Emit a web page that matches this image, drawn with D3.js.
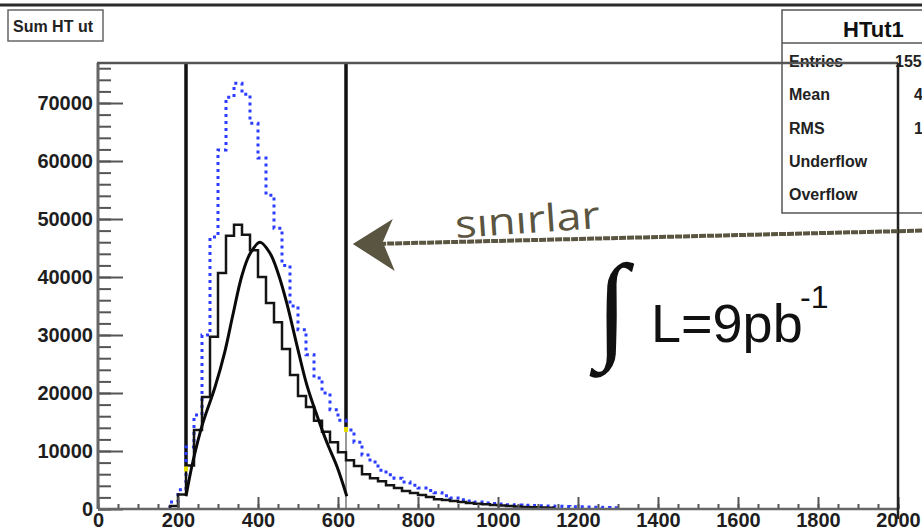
<!DOCTYPE html>
<html>
<head>
<meta charset="utf-8">
<script src="https://cdn.jsdelivr.net/npm/d3@7/dist/d3.min.js"></script>
<style>
  body { margin: 0; background: #fff; }
  svg { display: block; }
</style>
</head>
<body>
<div id="chart"></div>
<script>
// histogram binning (HT in GeV), bins start at firstBin
var binWidth = 20;
var firstBin = 180;

// blue dotted histogram (before cuts)
var blueCounts = [1200, 3300, 10700, 16200, 30000, 46900, 61900, 71000, 73400, 71500,
                  66500, 60500, 54100, 48400, 42000, 35000, 30900, 26600, 22600, 20000,
                  17100, 15300, 13600, 11500, 9300, 8100, 6700, 5900, 5300, 4650,
                  4100, 3600, 3200, 2800, 2300, 1900, 1600, 1400, 1200, 1050,
                  950, 850, 750, 700, 650, 600, 560, 520, 480, 440,
                  400, 370, 340, 300, 260, 200];

// black solid histogram
var blackCounts = [500, 2500, 7500, 13600, 19300, 29700, 40700, 47100, 49000, 47300,
                   44600, 40000, 35500, 32200, 27600, 23100, 19500, 17600, 15200, 13300,
                   11500, 9800, 8400, 7400, 6000, 5300, 4800, 4100, 3600, 3100,
                   2750, 2400, 2050, 1700, 1550, 1400, 1200, 1050, 900, 800,
                   700, 600, 500, 420, 350, 300, 250, 200];

// fitted curve
var fitX = [220, 237, 262, 292, 317, 337, 360, 380, 405, 430, 450, 472, 497, 522, 547, 572, 597, 622];
var fitY = [2200, 8100, 14800, 20900, 27100, 33400, 40300, 44000, 46000, 44100, 40700, 35500, 28300, 21400, 16200, 11500, 7400, 2200];

// cut lines ("sinirlar")
var cutX = [220, 620];
var cutBottom = [7000, 13800];

var xTicks = [0, 200, 400, 600, 800, 1000, 1200, 1400, 1600, 1800, 2000];
var yTicks = [0, 10000, 20000, 30000, 40000, 50000, 60000, 70000];

var statLabels = ["Entries", "Mean", "RMS", "Underflow", "Overflow"];
var statValues = ["155", "4", "1", "", ""];
var statValueX = [895, 914, 914, 930, 930];

var W = 922, H = 532;
var x = d3.scaleLinear().domain([0, 2000]).range([98, 898]);
var y = d3.scaleLinear().domain([0, 76900]).range([509, 63]);

var svg = d3.select("#chart").append("svg")
    .attr("width", W)
    .attr("height", H)
    .style("font-family", "'Liberation Sans', Arial, sans-serif");

svg.append("rect").attr("width", W).attr("height", H).attr("fill", "#fff");

// top border of the canvas
svg.append("line")
    .attr("x1", 0).attr("x2", W).attr("y1", 5).attr("y2", 5)
    .attr("stroke", "#2a2a2a").attr("stroke-width", 3);

// title box
svg.append("rect")
    .attr("x", 8).attr("y", 10).attr("width", 95).attr("height", 31)
    .attr("fill", "#fff").attr("stroke", "#666").attr("stroke-width", 1.5);
svg.append("text")
    .attr("x", 13).attr("y", 32)
    .attr("font-size", 16).attr("font-weight", "bold").attr("fill", "#222")
    .text("Sum HT ut");

// build step points
function stepPoints(counts) {
    var pts = [[firstBin, 0]];
    counts.forEach(function(c, i) { pts.push([firstBin + i * binWidth, c]); });
    var end = firstBin + counts.length * binWidth;
    pts.push([end, counts[counts.length - 1]]);
    pts.push([end, 0]);
    return pts;
}

var stepLine = d3.line()
    .x(function(d) { return x(d[0]); })
    .y(function(d) { return y(d[1]); })
    .curve(d3.curveStepAfter);

// cut lines
svg.selectAll("line.cut")
    .data(cutX)
    .enter().append("line")
    .attr("class", "cut")
    .attr("x1", function(d) { return x(d); })
    .attr("x2", function(d) { return x(d); })
    .attr("y1", y(76900))
    .attr("y2", function(d, i) { return y(cutBottom[i]); })
    .attr("stroke", "#111").attr("stroke-width", 3.5);

svg.append("line")
    .attr("x1", x(cutX[1])).attr("x2", x(cutX[1]))
    .attr("y1", y(cutBottom[1])).attr("y2", y(0))
    .attr("stroke", "#777").attr("stroke-width", 1.5);

// blue dotted histogram
svg.append("path")
    .attr("d", stepLine(stepPoints(blueCounts)))
    .attr("fill", "none")
    .attr("stroke", "#2b3bff")
    .attr("stroke-width", 3)
    .attr("stroke-dasharray", "3,4");

// black histogram
svg.append("path")
    .attr("d", stepLine(stepPoints(blackCounts)))
    .attr("fill", "none")
    .attr("stroke", "#151515")
    .attr("stroke-width", 2.5);

// fit curve
var fitLine = d3.line()
    .x(function(d) { return x(d[0]); })
    .y(function(d) { return y(d[1]); })
    .curve(d3.curveCatmullRom.alpha(0.5));
svg.append("path")
    .attr("d", fitLine(fitX.map(function(v, i) { return [v, fitY[i]]; })))
    .attr("fill", "none")
    .attr("stroke", "#0a0a0a")
    .attr("stroke-width", 3);

// yellow markers at cut ends
svg.selectAll("rect.mark")
    .data(cutX)
    .enter().append("rect")
    .attr("class", "mark")
    .attr("x", function(d) { return x(d) - 2; })
    .attr("y", function(d, i) { return y(cutBottom[i]) - 2; })
    .attr("width", 4).attr("height", 5)
    .attr("fill", "#e6df00");

// stats box
var sx = 782;
svg.append("rect")
    .attr("x", sx).attr("y", 10).attr("width", 170).attr("height", 203)
    .attr("fill", "#fff").attr("stroke", "#555").attr("stroke-width", 1.5);
svg.append("line")
    .attr("x1", sx).attr("x2", W).attr("y1", 43).attr("y2", 43)
    .attr("stroke", "#555").attr("stroke-width", 1.5);
svg.append("text")
    .attr("x", 843).attr("y", 37)
    .attr("font-size", 22).attr("font-weight", "bold").attr("fill", "#111")
    .text("HTut1");
svg.selectAll("text.slab")
    .data(statLabels)
    .enter().append("text")
    .attr("class", "slab")
    .attr("x", 789)
    .attr("y", function(d, i) { return 67 + i * 33.3; })
    .attr("font-size", 16).attr("font-weight", "bold").attr("fill", "#222")
    .text(function(d) { return d; });
svg.selectAll("text.sval")
    .data(statValues)
    .enter().append("text")
    .attr("class", "sval")
    .attr("x", function(d, i) { return statValueX[i]; })
    .attr("y", function(d, i) { return 67 + i * 33.3; })
    .attr("font-size", 16).attr("font-weight", "bold").attr("fill", "#222")
    .text(function(d) { return d; });

// axes (ticks drawn inside the frame)
var xAxis = d3.axisBottom(x).tickValues(xTicks).tickSize(-12).tickSizeOuter(0).tickPadding(4)
    .tickFormat(d3.format("d"));
var xMinor = d3.axisBottom(x).tickValues(d3.range(0, 2001, 50)).tickSize(-5).tickSizeOuter(0)
    .tickFormat("");
var yAxis = d3.axisLeft(y).tickValues(yTicks).tickSize(-25).tickSizeOuter(0).tickPadding(5)
    .tickFormat(d3.format("d"));
var yMinor = d3.axisLeft(y).tickValues(d3.range(0, 76001, 2000)).tickSize(-13).tickSizeOuter(0)
    .tickFormat("");

function styleAxis(g) {
    g.select(".domain").remove();
    g.selectAll(".tick line").attr("stroke", "#555").attr("stroke-width", 2);
    g.selectAll(".tick text")
        .attr("font-size", 20).attr("font-weight", "bold").attr("fill", "#1e1e1e")
        .attr("font-family", "'Liberation Sans', Arial, sans-serif");
}

svg.append("g").attr("transform", "translate(0," + y(0) + ")").call(xMinor).call(styleAxis);
svg.append("g").attr("transform", "translate(0," + y(0) + ")").call(xAxis).call(styleAxis);
svg.append("g").attr("transform", "translate(" + x(0) + ",0)").call(yMinor).call(styleAxis);
svg.append("g").attr("transform", "translate(" + x(0) + ",0)").call(yAxis).call(styleAxis);

// frame
svg.append("line")
    .attr("x1", x(0)).attr("x2", x(2000)).attr("y1", y(0)).attr("y2", y(0))
    .attr("stroke", "#666").attr("stroke-width", 2.5);
svg.append("line")
    .attr("x1", x(0)).attr("x2", x(0)).attr("y1", y(0)).attr("y2", y(76900))
    .attr("stroke", "#666").attr("stroke-width", 3);
svg.append("line")
    .attr("x1", x(0) - 1).attr("x2", x(2000)).attr("y1", y(76900)).attr("y2", y(76900))
    .attr("stroke", "#555").attr("stroke-width", 2.5);
svg.append("line")
    .attr("x1", x(2000)).attr("x2", x(2000)).attr("y1", y(76900)).attr("y2", y(0) + 10)
    .attr("stroke", "#222").attr("stroke-width", 2.5);

// annotation: arrow pointing at the cut line
var anno = "#5a5540";
var arrowTip = [637, 45700], arrowTail = [2060, 48000];
svg.append("line")
    .attr("x1", x(arrowTail[0])).attr("y1", y(arrowTail[1]))
    .attr("x2", x(arrowTip[0]) + 20).attr("y2", y(arrowTip[1]))
    .attr("stroke", anno).attr("stroke-width", 4)
    .attr("stroke-dasharray", "7,1");
var tx = x(arrowTip[0]), ty = y(arrowTip[1]);
svg.append("path")
    .attr("d", "M" + tx + "," + ty + " L" + (tx + 40) + "," + (ty - 25) +
               " L" + (tx + 30) + "," + (ty - 2) + " L" + (tx + 42) + "," + (ty + 27) + " Z")
    .attr("fill", anno);
svg.append("text")
    .attr("transform", "translate(456,238) rotate(-4)")
    .attr("font-family", "'Open Sans', sans-serif")
    .attr("font-size", 38).attr("fill", anno)
    .attr("textLength", 145).attr("lengthAdjust", "spacingAndGlyphs")
    .text("sınırlar");

// luminosity
svg.append("text")
    .attr("x", 596).attr("y", 346)
    .attr("font-family", "'Liberation Serif', serif")
    .attr("font-size", 118).attr("fill", "#111")
    .text("∫");
svg.append("text")
    .attr("x", 651).attr("y", 342)
    .attr("font-size", 54).attr("fill", "#111")
    .text("L=9pb");
svg.append("text")
    .attr("x", 800).attr("y", 308)
    .attr("font-size", 32).attr("fill", "#111")
    .text("-1");
</script>
</body>
</html>
